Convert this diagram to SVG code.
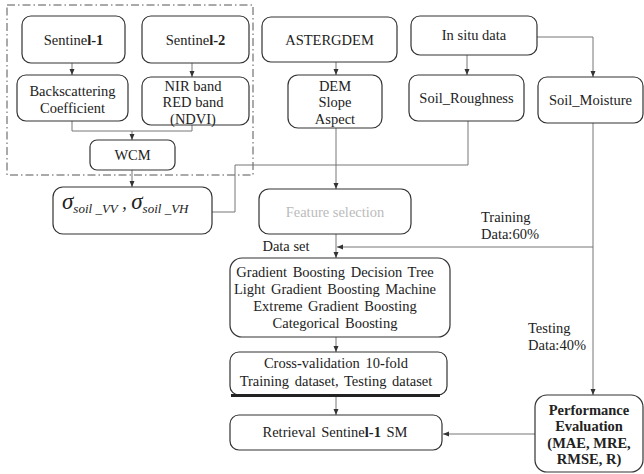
<svg xmlns="http://www.w3.org/2000/svg" width="644" height="474" viewBox="0 0 644 474">
<defs>
<marker id="ah" viewBox="0 0 6 6" refX="6" refY="3" markerWidth="6" markerHeight="6" markerUnits="userSpaceOnUse" orient="auto">
<path d="M0,0.5 L6,3 L0,5.5 Z" fill="#333"/>
</marker>
</defs>
<style>
.box{fill:#fff;stroke:#333;stroke-width:1.2}
.t{font-family:"Liberation Serif","Times New Roman",serif;font-size:14.5px;fill:#222;text-anchor:middle}
.tl{font-family:"Liberation Serif","Times New Roman",serif;font-size:14.5px;fill:#222}
.b{font-weight:bold}
.c{fill:none;stroke:#777;stroke-width:1}
.ca{fill:none;stroke:#777;stroke-width:1;marker-end:url(#ah)}
</style>
<rect width="644" height="474" fill="#fff"/>
<rect x="7" y="5" width="246" height="170" fill="none" stroke="#555" stroke-width="1" stroke-dasharray="8 3 1.5 3"/>

<g id="connectors">
<path class="ca" d="M72,63 V75"/>
<path class="ca" d="M192,63 V77"/>
<path class="c" d="M72,121 V131 H192 V125"/>
<path class="ca" d="M132,131 V140"/>
<path class="ca" d="M132,170 V187"/>
<path class="c" d="M212,212 H235 V165 H468 V121"/>
<path class="ca" d="M336,62 V75"/>
<path class="ca" d="M336,128 V189"/>
<path class="ca" d="M467,55 V75"/>
<path class="ca" d="M537,37 H593 V77"/>
<path class="ca" d="M593,123 V395"/>
<path class="ca" d="M593,247 H337"/>
<path class="ca" d="M336,234 V258"/>
<path class="ca" d="M336,337 V352"/>
<path class="ca" d="M336,396 V415"/>
<path class="ca" d="M535,434 H443"/>
</g>

<g id="sentinel1">
<rect class="box" x="22" y="16" width="103" height="47" rx="9"/>
<text class="t" x="73.5" y="45">Sentine<tspan class="b">l-1</tspan></text>
</g>
<g id="sentinel2">
<rect class="box" x="142" y="16" width="107" height="47" rx="9"/>
<text class="t" x="195.5" y="45">Sentine<tspan class="b">l-2</tspan></text>
</g>
<g id="backscattering">
<rect class="box" x="17" y="75" width="111" height="46" rx="9"/>
<text class="t" x="72.5" y="96">Backscattering</text>
<text class="t" x="72.5" y="113">Coefficient</text>
</g>
<g id="nir">
<rect class="box" x="142" y="77" width="107" height="48" rx="9"/>
<text class="t" x="193" y="91">NIR band</text>
<text class="t" x="193" y="107">RED band</text>
<text class="t" x="193" y="124">(NDVI)</text>
</g>
<g id="wcm">
<rect class="box" x="90" y="140" width="85" height="30" rx="7"/>
<text class="t" x="132.5" y="160">WCM</text>
</g>
<g id="sigma">
<rect class="box" x="53" y="187" width="159" height="47" rx="10"/>
<text class="tl" x="62" y="209" font-style="italic"><tspan font-size="23">σ</tspan><tspan font-size="13" dy="4">soil _VV</tspan><tspan font-size="18" dy="-4"> , </tspan><tspan font-size="23">σ</tspan><tspan font-size="13" dy="4">soil _VH</tspan></text>
</g>
<g id="astergdem">
<rect class="box" x="262" y="17" width="135" height="45" rx="9"/>
<text class="t" x="329.5" y="45">ASTERGDEM</text>
</g>
<g id="dem">
<rect class="box" x="288" y="75" width="94" height="53" rx="10"/>
<text class="t" x="335" y="91">DEM</text>
<text class="t" x="335" y="107">Slope</text>
<text class="t" x="335" y="124">Aspect</text>
</g>
<g id="insitu">
<rect class="box" x="411" y="16" width="126" height="39" rx="9"/>
<text class="t" x="474" y="40">In situ data</text>
</g>
<g id="roughness">
<rect class="box" x="409" y="75" width="115" height="46" rx="9"/>
<text class="t" x="466.5" y="103">Soil_Roughness</text>
</g>
<g id="moisture">
<rect class="box" x="538" y="77" width="105" height="46" rx="9"/>
<text class="t" x="590.5" y="105">Soil_Moisture</text>
</g>
<g id="feature">
<rect class="box" x="259" y="189" width="152" height="45" rx="10" stroke="#555"/>
<text class="t" x="335" y="217" fill="#bbb" style="fill:#bbb">Feature selection</text>
</g>
<g id="labels">
<text class="t" x="286" y="251">Data set</text>
<text class="tl" x="481" y="222">Training</text>
<text class="tl" x="481" y="239">Data:60%</text>
<text class="tl" x="528" y="333">Testing</text>
<text class="tl" x="528" y="350">Data:40%</text>
</g>
<g id="models">
<rect class="box" x="230" y="258" width="220" height="79" rx="12"/>
<text class="t" x="335" y="277" word-spacing="2">Gradient Boosting Decision Tree</text>
<text class="t" x="335" y="294" word-spacing="2">Light Gradient Boosting Machine</text>
<text class="t" x="335" y="311" word-spacing="2">Extreme Gradient Boosting</text>
<text class="t" x="335" y="328" word-spacing="2">Categorical Boosting</text>
</g>
<g id="crossval">
<rect class="box" x="230" y="352" width="217" height="43" rx="9"/>
<path d="M231,395.5 H440" stroke="#222" stroke-width="3"/>
<text class="t" x="336" y="368" word-spacing="2">Cross<tspan class="b">-</tspan>validation 10<tspan class="b">-</tspan>fold</text>
<text class="t" x="336" y="386" word-spacing="2">Training dataset, Testing dataset</text>
</g>
<g id="retrieval">
<rect class="box" x="230" y="415" width="212" height="35" rx="9"/>
<text class="t" x="335" y="437" word-spacing="2">Retrieval Sentine<tspan class="b">l-1</tspan> SM</text>
</g>
<g id="performance">
<rect class="box" x="535" y="395" width="108" height="77" rx="12"/>
<text class="t b" x="589" y="415">Performance</text>
<text class="t b" x="589" y="431">Evaluation</text>
<text class="t b" x="589" y="448">(MAE, MRE,</text>
<text class="t b" x="589" y="464">RMSE, R)</text>
</g>
</svg>
